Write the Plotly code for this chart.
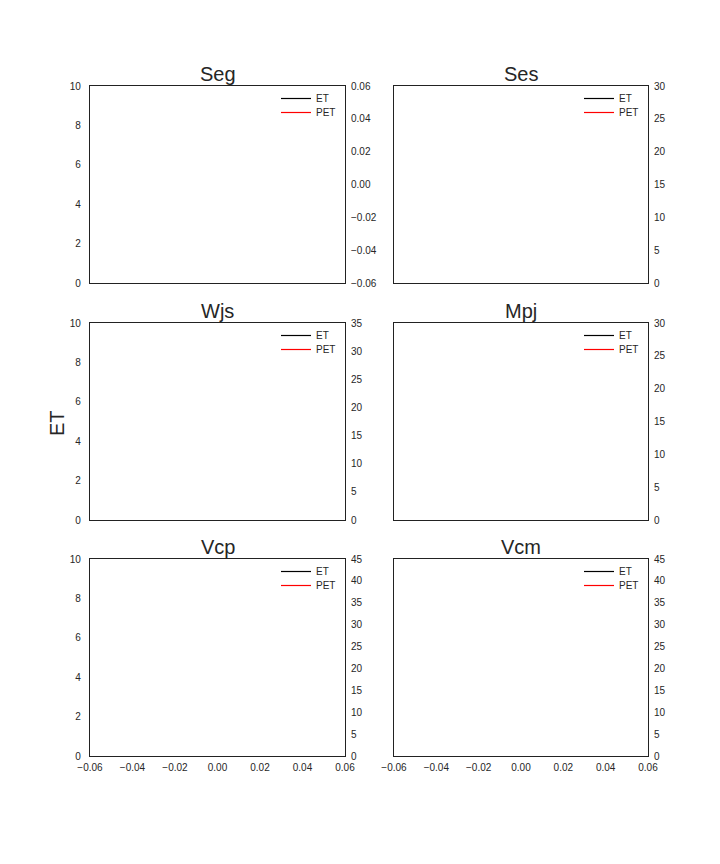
import plotly.graph_objects as go

# ---- data ----
sites = ["Seg", "Ses", "Wjs", "Mpj", "Vcp", "Vcm"]
et_values = {s: [] for s in sites}      # ET series (empty in source)
pet_values = {s: [] for s in sites}     # PET series (empty in source)
dates = []
series_names = ["ET", "PET"]
series_colors = ["black", "red"]
left_range = [0, 10]
left_dtick = 2
right_ranges = {"Seg": [-0.06, 0.06], "Ses": [0, 30], "Wjs": [0, 35],
                "Mpj": [0, 30], "Vcp": [0, 45], "Vcm": [0, 45]}
right_dticks = {"Seg": 0.02, "Ses": 5, "Wjs": 5, "Mpj": 5, "Vcp": 5, "Vcm": 5}
x_range = [-0.06, 0.06]
x_dtick = 0.02
y_label = "ET"

W, H = 720, 864
col_px = [(90, 345), (394, 648)]
row_px = [(86, 283), (323, 520), (559, 756)]
TXT = "#262626"
FONT = "Liberation Sans, Arial, sans-serif"

fig = go.Figure()
layout = dict(
    width=W, height=H, margin=dict(l=0, r=0, t=0, b=0, autoexpand=False),
    paper_bgcolor="white", plot_bgcolor="white",
    font=dict(family=FONT, color=TXT, size=10),
    showlegend=True,
)
annotations = []
leg_count = 0
for i, s in enumerate(sites):
    r, c = divmod(i, 2)
    x0, x1 = col_px[c]
    y0, y1 = row_px[r]
    xd = [x0 / W, x1 / W]
    yd = [1 - y1 / H, 1 - y0 / H]
    n = i + 1
    rn = i + 7
    xa = f"xaxis{n}" if n > 1 else "xaxis"
    ya = f"yaxis{n}" if n > 1 else "yaxis"
    yr = f"yaxis{rn}"
    layout[xa] = dict(domain=xd, anchor=f"y{n}" if n > 1 else "y", range=x_range, dtick=x_dtick,
                      tickformat=".2f", showgrid=False, zeroline=False, showline=True, mirror=True,
                      linecolor="#222222", linewidth=1.3, showticklabels=(r == 2), ticks="",
                      automargin=False, ticklabelstandoff=2, tickfont=dict(size=10, color=TXT))
    layout[ya] = dict(domain=yd, anchor=f"x{n}" if n > 1 else "x", range=left_range, dtick=left_dtick,
                      showgrid=False, zeroline=False, showline=True, mirror=True,
                      linecolor="#222222", linewidth=1.3, showticklabels=(c == 0), ticks="",
                      automargin=False, ticklabelstandoff=6, tickfont=dict(size=10, color=TXT))
    rfmt = ".2f" if s == "Seg" else "d"
    layout[yr] = dict(overlaying=f"y{n}" if n > 1 else "y", anchor=f"x{n}" if n > 1 else "x",
                      side="right", range=right_ranges[s], dtick=right_dticks[s], tickformat=rfmt,
                      showgrid=False, zeroline=False, showline=False, ticks="", automargin=False,
                      ticklabelstandoff=5, tickfont=dict(size=10, color=TXT))
    xs = f"x{n}" if n > 1 else "x"
    ys_list = [f"y{n}" if n > 1 else "y", f"y{rn}"]
    series_vals = [et_values[s], pet_values[s]]
    for k, (nm, col, vals, yax) in enumerate(zip(series_names, series_colors, series_vals, ys_list)):
        leg_count += 1
        leg = "legend" if leg_count == 1 else f"legend{leg_count}"
        layout[leg] = dict(x=(x1 - 29 - 40) / W, y=1 - (y0 - 2 + 14 * k) / H, xanchor="left", yanchor="top",
                           bgcolor="rgba(0,0,0,0)", borderwidth=0,
                           font=dict(size=10, color=TXT, family=FONT))
        fig.add_trace(go.Scatter(x=dates if dates else [None], y=vals if vals else [None],
                                 mode="lines", name=nm, line=dict(color=col, width=1.2),
                                 xaxis=xs, yaxis=yax, legend=leg, hoverinfo="skip"))
    annotations.append(dict(text=s, x=(x0 + x1) / 2 / W, y=1 - (y0 + 1) / H, xref="paper", yref="paper",
                            xanchor="center", yanchor="bottom", showarrow=False,
                            font=dict(size=20, color=TXT, family=FONT)))

annotations.append(dict(text=y_label, x=57 / W, y=1 - 423 / H, xref="paper", yref="paper",
                        xanchor="center", yanchor="middle", textangle=-90, showarrow=False,
                        font=dict(size=20, color=TXT, family=FONT)))
layout["annotations"] = annotations
fig.update_layout(**layout)
fig.write_html("out.html")
